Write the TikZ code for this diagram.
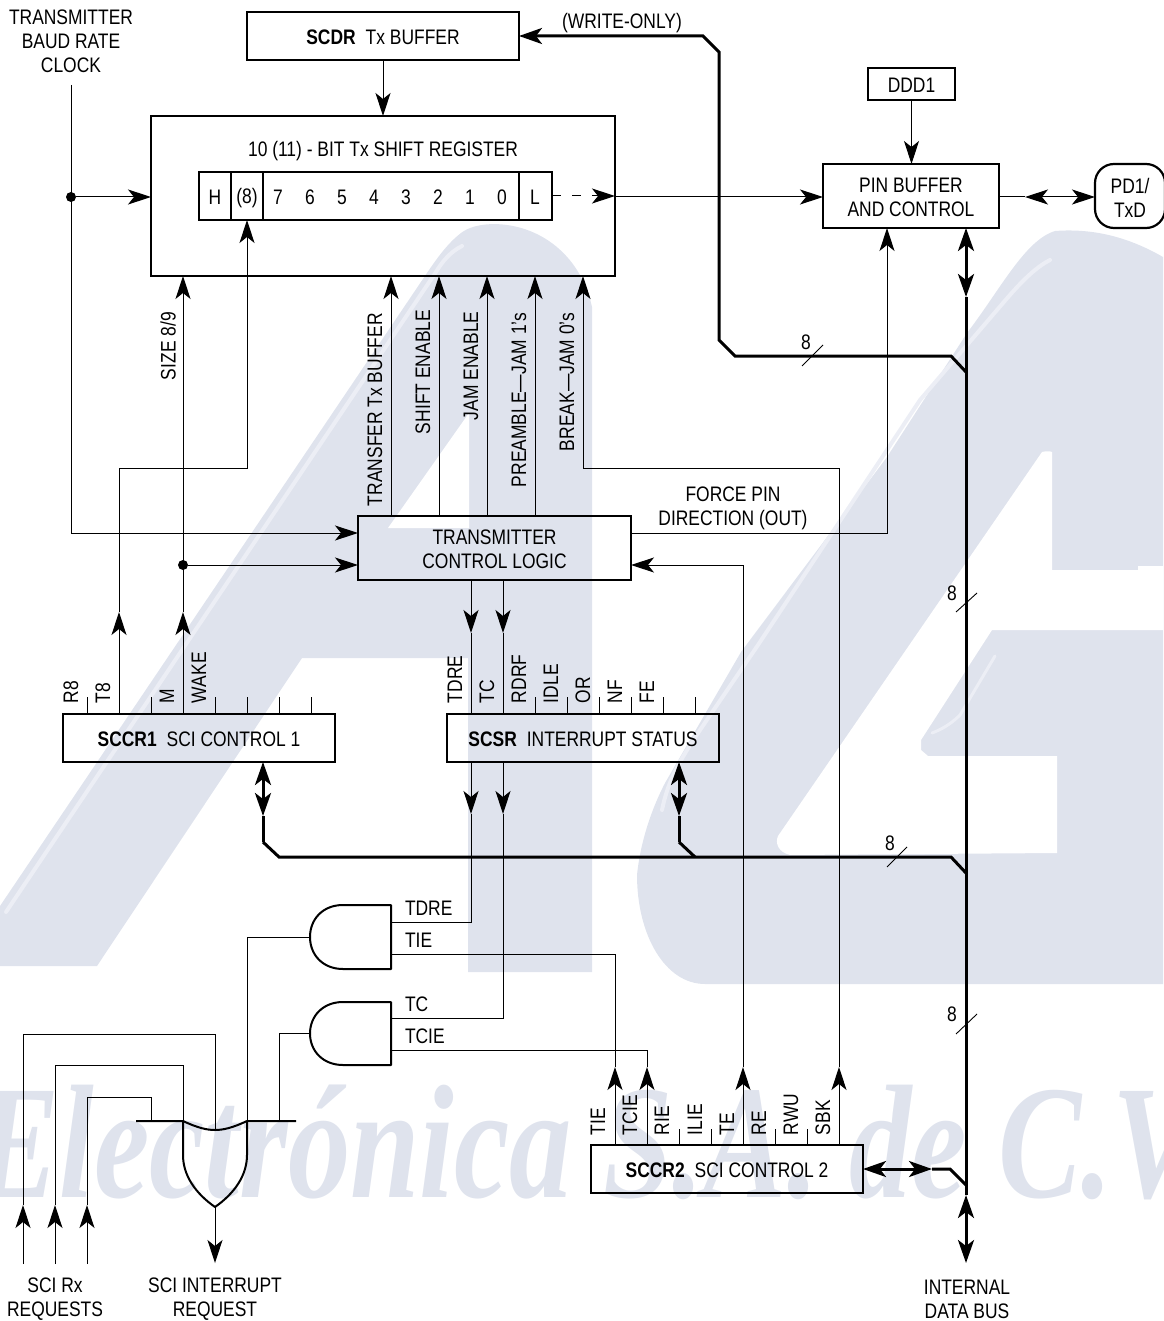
\documentclass[tikz,border=0pt]{standalone}
\usepackage{fontspec}
\setmainfont[FakeStretch=0.83]{Liberation Sans}
\newfontfamily\wmfont[FakeStretch=0.77]{Liberation Serif}
\usetikzlibrary{arrows.meta,calc}
\definecolor{wm}{HTML}{DFE3ED}
\definecolor{wmhi}{HTML}{ECEEF5}
\tikzset{
  base/.style={inner sep=0pt,outer sep=0pt,font=\fontsize{21}{24}\selectfont,align=center},
  box/.style={base,draw=black,line width=2.2pt,minimum height=#1,rectangle},
  lab/.style={base,yshift=-1.6pt},
  vlab/.style={base,rotate=90,anchor=west},
  wire/.style={line width=1pt,draw=black},
  bus/.style={line width=3pt,draw=black,line join=miter},
  tipped/.style={wire,-{Stealth[length=23pt,width=15pt,inset=6pt]}},
  twoway/.style={bus,{Stealth[length=23pt,width=16pt,inset=6pt]}-{Stealth[length=23pt,width=16pt,inset=6pt]}},
  gateline/.style={line width=2pt,draw=black,line join=round},
  tick/.style={line width=0.9pt,draw=black},
  dotnode/.style={circle,fill=black,inner sep=0pt,minimum size=10pt}
}
\begin{document}
\begin{tikzpicture}[x=1pt,y=-1pt]
\useasboundingbox (0,0) rectangle (1163,1321);
\begin{scope}
\clip (0,0) rectangle (1163,1321);
% watermark: A
\fill[wm] (0,906) -- (0,966) -- (97,966) -- (302,658) -- (468,658) -- (468,972) -- (592,972) -- (592,307)
  .. controls (585,275) and (565,245) .. (530,231) .. controls (505,221) and (475,222) .. (461,233) .. controls (448,243) and (438,257) .. (429,270) -- cycle;
\fill[white] (469,413) -- (469,528) -- (388,528) -- cycle;
% watermark: G
\fill[wm] (637,875) .. controls (637,935) and (665,984) .. (705,984) -- (1163,984) -- (1163,257)
  .. controls (1130,238) and (1095,228) .. (1055,231) .. controls (1025,240) and (1000,290) .. (967,333) -- (887,457) -- (741,652) -- (665,783) .. controls (650,812) and (640,845) .. (637,875) -- cycle;
\fill[white] (1042,452) .. controls (1046,451) and (1050,451) .. (1052,452) -- (1052,570) -- (1138,570) -- (1138,566) -- (1163,566) -- (1163,630) -- (992,630) -- (921,740) -- (921,750) -- (928,756) -- (1057,756) -- (1057,853) -- (790,855) .. controls (778,852) and (775,843) .. (778,836) -- cycle;
\draw[wmhi,line width=4pt,line cap=round] (462,246) .. controls (450,252) and (442,262) .. (436,272) -- (6,912);
\draw[wmhi,line width=4pt,line cap=round] (1050,260) .. controls (1030,270) and (1010,295) .. (997,310) -- (920,400) -- (758,645) -- (700,730) .. controls (680,760) and (668,780) .. (662,810);
\draw[wmhi,line width=3pt,line cap=round] (995,656) -- (960,715) .. controls (950,725) and (940,730) .. (932,733);
\node[anchor=base west,inner sep=0pt,text=wm,font=\wmfont\bfseries\itshape\fontsize{162}{162}\selectfont] (wmtext) at (-24,1197) {Electrónica S.A. de C.V.};
\end{scope}

% columns
\foreach \c in {23,55,71,87,119,151,183,215,247,263,279,383,391,439,471,487,503,535,583,615,647,679,743,839,887,911,966}{\coordinate (c\c) at (\c,0);}
\foreach \r in {197,533,565,1169}{\coordinate (r\r) at (0,\r);}

% boxes
\node[box=48pt,minimum width=272pt] (scdr) at (383,36) {};
\node[lab] (scdrt) at (scdr) {\textbf{SCDR}\hspace{10pt}Tx BUFFER};
\node[box=160pt,minimum width=464pt] (sr) at (383,196) {};
\node[lab] (srt) at (383,149) {10 (11) - BIT Tx SHIFT REGISTER};
\node[box=48pt,minimum width=353pt] (strip) at (375.5,196) {};
\coordinate (d1) at (231,0); \coordinate (d2) at (263,0); \coordinate (d3) at (519,0);
\draw[wire,line width=1.4pt] (strip.north -| d1) -- (strip.south -| d1);
\draw[wire,line width=1.4pt] (strip.north -| d2) -- (strip.south -| d2);
\draw[wire,line width=1.4pt] (strip.north -| d3) -- (strip.south -| d3);
\node[lab] (bH) at (215,196) {H};
\node[lab] (b8) at (247,196) {(8)};
\foreach \t/\p in {7/278,6/310,5/342,4/374,3/406,2/438,1/470,0/502}{\node[lab] (b\t) at (\p,196) {\t};}
\node[lab] (bL) at (535,196) {L};
\node[box=32pt,minimum width=87pt] (ddd) at (911.5,84) {};
\node[lab] (dddt) at (ddd) {DDD1};
\node[box=64pt,minimum width=176pt] (pin) at (911,196) {};
\node[lab] (pint) at (pin) {PIN BUFFER\\AND CONTROL};
\node[box=64pt,minimum width=70pt,rounded corners=19pt] (pd) at (1130,196) {};
\node[lab] (pdt) at (pd) {PD1/\\TxD};
\node[box=64pt,minimum width=273pt] (tcl) at (494.5,548) {};
\node[lab] (tclt) at (tcl) {TRANSMITTER\\CONTROL LOGIC};
\node[box=48pt,minimum width=272pt] (sccr1) at (199,738) {};
\node[lab] (sccr1t) at (sccr1) {\textbf{SCCR1}\hspace{10pt}SCI CONTROL 1};
\node[box=48pt,minimum width=272pt] (scsr) at (583,738) {};
\node[lab] (scsrt) at (scsr) {\textbf{SCSR}\hspace{10pt}INTERRUPT STATUS};
\node[box=48pt,minimum width=272pt] (sccr2) at (727,1169) {};
\node[lab] (sccr2t) at (sccr2) {\textbf{SCCR2}\hspace{10pt}SCI CONTROL 2};

% free-standing labels
\node[lab] (clk) at (71,40) {TRANSMITTER\\BAUD RATE\\CLOCK};
\node[lab] (wo) at (622,21) {(WRITE-ONLY)};
\node[lab] (fp) at (733,507) {FORCE PIN\\DIRECTION (OUT)};
\node[lab] (rxl) at (55,1298) {SCI Rx\\REQUESTS};
\node[lab] (irq) at (215,1298) {SCI INTERRUPT\\REQUEST};
\node[lab] (idb) at (967,1298) {INTERNAL\\DATA BUS};
\node[lab] (n1) at (806,341) {8};
\node[lab] (n2) at (952,592) {8};
\node[lab] (n3) at (890,842) {8};
\node[lab] (n4) at (952,1013) {8};

% register bit stubs
\foreach \x in {87,119,151,183,215,247,279,311}{\coordinate (s) at (\x,697); \draw[wire] (s) -- (s |- sccr1.north);}
\foreach \x in {471,503,535,567,599,631,663,695}{\coordinate (s) at (\x,697); \draw[wire] (s) -- (s |- scsr.north);}
\foreach \x in {615,647,679,711,743,775,807,839}{\coordinate (s) at (\x,1129); \draw[wire] (s) -- (s |- sccr2.north);}

% register bit names
\foreach \t/\x in {R8/71,T8/103,M/167,WAKE/199,TDRE/455,TC/487,RDRF/519,IDLE/551,OR/583,NF/615,FE/647}{\node[vlab] (v\t) at (\x,703) {\t};}
\foreach \t/\x in {TIE/598,TCIE/630,RIE/662,ILIE/695,TE/727,RE/759,RWU/791,SBK/823}{\node[vlab] (w\t) at (\x,1135) {\t};}
\node[vlab] (vs) at (168,380) {SIZE 8/9};
\node[vlab] (vt) at (375,506) {TRANSFER Tx BUFFER};
\node[vlab] (vse) at (423,434) {SHIFT ENABLE};
\node[vlab] (vje) at (471,420) {JAM ENABLE};
\node[vlab] (vp) at (519,487) {PREAMBLE---JAM 1's};
\node[vlab] (vb) at (567,451) {BREAK---JAM 0's};

% connectors, top
\coordinate (clktop) at (71,85);
\node[dotnode] (dot1) at (71,197) {};
\draw[wire] (clktop) -- (c71 |- r533) coordinate (clkb);
\draw[tipped] (clkb) -- (clkb -| tcl.west);
\draw[tipped] (dot1) -- (sr.west |- dot1);
\draw[tipped] (scdr.south) -- (sr.north -| scdr.south);
\draw[tipped,dash pattern=on 9pt off 11pt] (strip.east) -- (sr.east |- strip.east);
\draw[tipped] (sr.east |- r197) -- (pin.west |- r197);
\draw[tipped] (ddd.south) -- (pin.north -| ddd.south);
\coordinate (pd1) at (1025,197);
\draw[wire] (pin.east |- r197) -- (pd1);
\draw[tipped] (1048,197) -- (pd1);
\draw[tipped] (1048,197) -- (pd.west |- r197);
\draw[tipped] (tcl.east |- r533) -- (c887 |- r533) -- (pin.south -| c887);
\coordinate (re1) at (743,1067);
\draw[tipped] (c743 |- sccr2.north) -- (re1);
\draw[wire] (re1) -- (c743 |- r565);
\draw[tipped] (c743 |- r565) -- (tcl.east |- r565);
\node[dotnode] (dot2) at (183,565) {};
\draw[tipped] (dot2) -- (tcl.west |- dot2);
% to shift register
\foreach \c in {c391,c439,c487,c535}{\draw[tipped] (tcl.north -| \c) -- (sr.south -| \c);}
\coordinate (sbk1) at (839,1067);
\draw[tipped] (c839 |- sccr2.north) -- (sbk1);
\draw[tipped] (sbk1) -- (839,468) -- (583,468) -- (sr.south -| c583);
\coordinate (wk) at (183,612);
\draw[tipped] (c183 |- sccr1.north) -- (wk);
\draw[tipped] (wk) -- (sr.south -| c183);
\coordinate (t8) at (119,612);
\draw[tipped] (c119 |- sccr1.north) -- (t8);
\draw[tipped] (t8) -- (119,468) -- (247,468) -- (strip.south -| c247);
% status down
\coordinate (st1) at (471,633); \coordinate (st2) at (503,633);
\draw[tipped] (tcl.south -| st1) -- (st1);
\draw[tipped] (tcl.south -| st2) -- (st2);
\draw[wire] (st1) -- (scsr.north -| st1);
\draw[wire] (st2) -- (scsr.north -| st2);
\coordinate (st3) at (471,814); \coordinate (st4) at (503,814);
\draw[tipped] (scsr.south -| st3) -- (st3);
\draw[tipped] (scsr.south -| st4) -- (st4);

% bus
\coordinate (bt) at (966,297);
\draw[twoway] (pin.south -| c966) -- (bt);
\draw[bus] (bt) -- (966,1195) coordinate (bb);
\draw[twoway] (bb) -- (966,1263);
\coordinate (b1) at (966,372);
\draw[bus,-{Stealth[length=23pt,width=16pt,inset=6pt]}] (b1) -- (951,356) -- (735,356) -- (719,340) -- (719,52) -- (703,36) -- (scdr.east |- 0,36);
\coordinate (b2) at (966,873);
\draw[bus] (b2) -- (951,857) -- (279,857) -- (263,842) coordinate (a1);
\draw[bus] (695,857) -- (679,842) coordinate (a2);
\coordinate (a1e) at (263,816); \coordinate (a2e) at (679,816);
\draw[bus] (a1) -- (a1e);
\draw[bus] (a2) -- (a2e);
\draw[twoway] (sccr1.south -| a1e) -- (a1e);
\draw[twoway] (scsr.south -| a2e) -- (a2e);
\coordinate (b3) at (966,1185);
\draw[bus] (b3) -- (950,1169) -- (932,1169) coordinate (a3);
\draw[twoway] (sccr2.east |- r1169) -- (a3);
% bus ticks
\draw[tick] (802,366) -- (823,345);
\draw[tick] (956,612) -- (977,593);
\draw[tick] (887,867) -- (907,847);
\draw[tick] (956,1034) -- (977,1014);

% AND gates
\draw[gateline] (343,905) -- (391,905) -- (391,969) -- (343,969) .. controls (323,969) and (310,955) .. (310,937) coordinate (and1) .. controls (310,919) and (323,905) .. (343,905) -- cycle;
\draw[gateline] (343,1002) -- (391,1002) -- (391,1065) -- (343,1065) .. controls (323,1065) and (310,1051) .. (310,1033.5) coordinate (and2) .. controls (310,1016) and (323,1002) .. (343,1002) -- cycle;
\node[base,anchor=west] (gTDRE) at (405,908) {TDRE};
\node[base,anchor=west] (gTIE) at (405,940) {TIE};
\node[base,anchor=west] (gTC) at (405,1004) {TC};
\node[base,anchor=west] (gTCIE) at (405,1036) {TCIE};
\draw[wire] (st3) -- (471,922) -- (391,922);
\draw[wire] (st4) -- (503,1018) -- (391,1018);
\coordinate (ti) at (615,1067); \coordinate (tc) at (647,1067);
\draw[tipped] (c615 |- sccr2.north) -- (ti);
\draw[tipped] (c647 |- sccr2.north) -- (tc);
\draw[wire] (391,954) -- (615,954) -- (ti);
\draw[wire] (391,1050) -- (647,1050) -- (tc);

% OR gate
\draw[gateline] (136,1121) -- (183,1121) .. controls (198,1128) and (207,1130) .. (215,1130) .. controls (223,1130) and (232,1128) .. (247,1121) -- (296,1121);
\draw[gateline] (183,1121) -- (183,1155) .. controls (183,1175) and (195,1193) .. (215,1207) coordinate (ortip) .. controls (235,1193) and (247,1175) .. (247,1155) -- (247,1121);
\draw[tipped] (ortip) -- (215,1263);
\draw[wire] (and1) -- (247,937) -- (c247 |- 0,1121);
\draw[wire] (and2) -- (279,1033.5) -- (c279 |- 0,1121);
\coordinate (i1) at (23,1205); \coordinate (i2) at (55,1205); \coordinate (i3) at (87,1205);
\draw[tipped] (23,1264) -- (i1);
\draw[tipped] (55,1264) -- (i2);
\draw[tipped] (87,1264) -- (i3);
\draw[wire] (i1) -- (23,1034) -- (215,1034) -- (215,1130);
\draw[wire] (i2) -- (55,1065) -- (183,1065) -- (183,1121);
\draw[wire] (i3) -- (87,1097) -- (151,1097) -- (151,1121);
\end{tikzpicture}
\end{document}
